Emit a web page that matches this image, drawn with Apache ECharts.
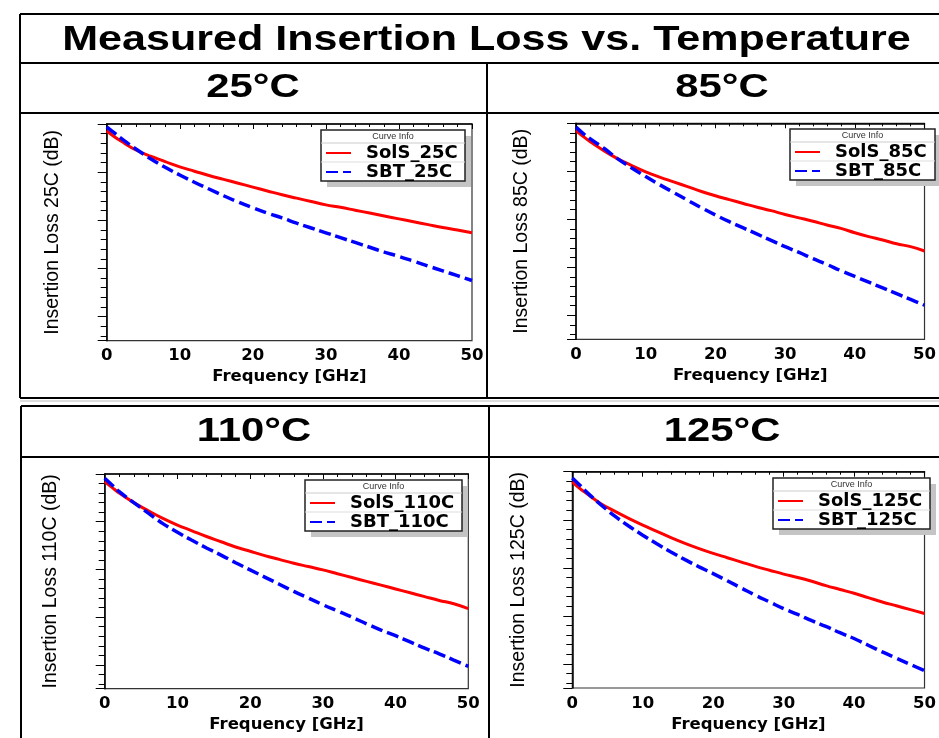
<!DOCTYPE html>
<html>
<head>
<meta charset="utf-8">
<script src="https://cdn.jsdelivr.net/npm/echarts@6/dist/echarts.min.js"></script>
<style>
html, body { margin: 0; padding: 0; background: #fff; }
#main { width: 939px; height: 738px; }
</style>
</head>
<body>
<div id="main"></div>
<script>
// frequency points (GHz) shared by all curves
var freq = [0, 1, 2, 4, 6, 8, 10, 12, 14, 16, 18, 20, 22, 24, 26, 28, 30, 32, 34, 36, 38, 40, 42, 44, 46, 48, 50];

// insertion loss (dB) (y axis has no printed labels)
var sols25 = [0.14, 0.26, 0.36, 0.54, 0.67, 0.78, 0.89, 0.98, 1.07, 1.15, 1.23, 1.31, 1.39, 1.47, 1.54, 1.61, 1.68, 1.73, 1.79, 1.85, 1.91, 1.97, 2.03, 2.09, 2.15, 2.20, 2.26];
var sbt25 = [0.06, 0.18, 0.30, 0.52, 0.72, 0.90, 1.06, 1.21, 1.35, 1.49, 1.62, 1.74, 1.85, 1.95, 2.06, 2.16, 2.26, 2.36, 2.46, 2.56, 2.66, 2.75, 2.85, 2.95, 3.05, 3.15, 3.25];
var sols85 = [0.15, 0.27, 0.38, 0.57, 0.74, 0.88, 1.01, 1.12, 1.22, 1.32, 1.42, 1.51, 1.59, 1.67, 1.75, 1.82, 1.90, 1.97, 2.04, 2.12, 2.19, 2.28, 2.36, 2.43, 2.51, 2.57, 2.66];
var sbt85 = [0.08, 0.21, 0.32, 0.52, 0.74, 0.93, 1.11, 1.28, 1.44, 1.60, 1.76, 1.91, 2.05, 2.18, 2.31, 2.44, 2.57, 2.69, 2.82, 2.94, 3.07, 3.19, 3.31, 3.43, 3.55, 3.67, 3.79];
var sols110 = [0.16, 0.28, 0.40, 0.60, 0.77, 0.93, 1.07, 1.19, 1.31, 1.42, 1.53, 1.62, 1.71, 1.79, 1.87, 1.94, 2.01, 2.09, 2.17, 2.25, 2.33, 2.41, 2.49, 2.57, 2.65, 2.72, 2.82];
var sbt110 = [0.09, 0.23, 0.37, 0.60, 0.82, 1.04, 1.22, 1.39, 1.55, 1.70, 1.86, 2.01, 2.16, 2.31, 2.46, 2.60, 2.74, 2.87, 3.00, 3.14, 3.27, 3.39, 3.52, 3.65, 3.77, 3.90, 4.03];
var sols125 = [0.21, 0.34, 0.45, 0.66, 0.82, 0.97, 1.11, 1.24, 1.37, 1.49, 1.60, 1.70, 1.79, 1.88, 1.97, 2.05, 2.13, 2.20, 2.28, 2.37, 2.45, 2.53, 2.62, 2.71, 2.79, 2.87, 2.95];
var sbt125 = [0.13, 0.27, 0.42, 0.68, 0.92, 1.13, 1.32, 1.50, 1.67, 1.83, 1.98, 2.12, 2.27, 2.42, 2.57, 2.71, 2.85, 2.97, 3.10, 3.22, 3.35, 3.47, 3.61, 3.75, 3.88, 4.01, 4.14];

var temps = ['25C', '85C', '110C', '125C'];
var tempTitles = ['25°C', '85°C', '110°C', '125°C'];
var solsData = [sols25, sols85, sols110, sols125];
var sbtData = [sbt25, sbt85, sbt110, sbt125];

// layout of the four panels
var panels = [
  { grid: { left: 106.7, top: 124, width: 365.3, height: 216.7 }, box: [321, 130, 144], head: [253, 88] },
  { grid: { left: 576, top: 123.3, width: 365, height: 216 }, box: [790, 129, 145], head: [722, 88] },
  { grid: { left: 104.7, top: 474, width: 363.6, height: 214.7 }, box: [305, 480, 157], head: [254, 432] },
  { grid: { left: 572.3, top: 471.7, width: 362.7, height: 216.3 }, box: [773, 478, 157], head: [722, 432] }
];

function pairs(arr) {
  return freq.map(function (f, i) { return [f, arr[i]]; });
}

var grids = [], xAxes = [], yAxes = [], series = [], legends = [], graphics = [];

panels.forEach(function (p, i) {
  var t = temps[i];
  grids.push(Object.assign({ show: true, borderColor: '#333', borderWidth: 1.2, backgroundColor: '#fff' }, p.grid));
  xAxes.push({
    gridIndex: i, type: 'value', min: 0, max: 50, interval: 10,
    name: 'Frequency [GHz]', nameLocation: 'middle', nameGap: 28,
    nameTextStyle: { fontFamily: 'DejaVu Sans', fontWeight: 'bold', fontSize: 16.5, color: '#000' },
    axisLine: { lineStyle: { color: '#000', width: 1.5 } },
    axisTick: { length: 5, lineStyle: { color: '#000' } },
    minorTick: { show: true, splitNumber: 5, length: 3, lineStyle: { color: '#000' } },
    axisLabel: { fontFamily: 'DejaVu Sans', fontWeight: 'bold', fontSize: 16.5, color: '#000', margin: 7 },
    splitLine: { show: false }
  });
  yAxes.push({
    gridIndex: i, type: 'value', inverse: true, min: 0, max: 4.5, interval: 1,
    name: 'Insertion Loss ' + t + ' (dB)', nameLocation: 'middle', nameGap: 44,
    nameTextStyle: { fontFamily: 'Liberation Sans', fontSize: 19.5, color: '#000' },
    axisLine: { lineStyle: { color: '#000', width: 1.5 } },
    axisTick: { length: 9, lineStyle: { color: '#000' } },
    minorTick: { show: true, splitNumber: 5, length: 6, lineStyle: { color: '#000' } },
    axisLabel: { show: false },
    splitLine: { show: false }
  });
  series.push({
    name: 'SolS_' + t, type: 'line', xAxisIndex: i, yAxisIndex: i,
    data: pairs(solsData[i]), symbol: 'none', smooth: 0.4,
    lineStyle: { color: '#ff0000', width: 3 }, itemStyle: { color: '#ff0000' }
  });
  series.push({
    name: 'SBT_' + t, type: 'line', xAxisIndex: i, yAxisIndex: i,
    data: pairs(sbtData[i]), symbol: 'none', smooth: 0.4,
    lineStyle: { color: '#0000ff', width: 3.5, type: [12, 5] }, itemStyle: { color: '#0000ff' }
  });

  var bx = p.box[0], by = p.box[1], bw = p.box[2], bh = 51;
  legends.push({
    data: ['SolS_' + t, 'SBT_' + t],
    orient: 'vertical', left: bx + 4, top: by + 14,
    itemWidth: 25, itemHeight: 10, itemGap: 1, padding: 0,
    selectedMode: false, z: 6,
    lineStyle: { width: 2 },
    itemStyle: { opacity: 0 },
    textStyle: { fontFamily: 'DejaVu Sans', fontWeight: 'bold', fontSize: 18, lineHeight: 18, color: '#000', padding: [0, 0, 0, 10] }
  });
  graphics.push(
    { type: 'rect', z: 3, shape: { x: bx + 6, y: by + 6, width: bw, height: bh }, style: { fill: '#c4c4c4' } },
    { type: 'rect', z: 4, shape: { x: bx, y: by, width: bw, height: bh }, style: { fill: '#fff', stroke: '#222', lineWidth: 1.5 } },
    { type: 'line', z: 4, shape: { x1: bx, y1: by + 13, x2: bx + bw, y2: by + 13 }, style: { stroke: '#ccc', lineWidth: 1 } },
    { type: 'line', z: 4, shape: { x1: bx, y1: by + 32, x2: bx + bw, y2: by + 32 }, style: { stroke: '#ddd', lineWidth: 1 } },
    { type: 'text', z: 5, x: bx + bw / 2, y: by + 6.5,
      style: { text: 'Curve Info', fontFamily: 'Liberation Sans', fontSize: 9, fill: '#333', textAlign: 'center', textVerticalAlign: 'middle' } },
    { type: 'text', z: 5, x: p.head[0], y: p.head[1], scaleX: 1.23,
      style: { text: tempTitles[i], fontFamily: 'Liberation Sans', fontWeight: 'bold', fontSize: 34, fill: '#000', textAlign: 'center', textVerticalAlign: 'middle' } }
  );
});

// frame lines of the composed figure
var frame = [
  [20, 14, 939, 14], [20, 63, 939, 63], [20, 113, 939, 113], [20, 398, 939, 398],
  [20, 14, 20, 398], [487, 63, 487, 398],
  [21, 406, 939, 406], [21, 457, 939, 457],
  [21, 406, 21, 738], [489, 406, 489, 738]
];
frame.forEach(function (l) {
  graphics.push({ type: 'line', z: 5, shape: { x1: l[0], y1: l[1], x2: l[2], y2: l[3] }, style: { stroke: '#000', lineWidth: 2 } });
});
graphics.push({ type: 'line', z: 5, shape: { x1: 20, y1: 401, x2: 939, y2: 401 }, style: { stroke: '#bbb', lineWidth: 1 } });

graphics.push({
  type: 'text', z: 5, x: 486.5, y: 40, scaleX: 1.23,
  style: { text: 'Measured Insertion Loss vs. Temperature', fontFamily: 'Liberation Sans', fontWeight: 'bold', fontSize: 35, fill: '#000', textAlign: 'center', textVerticalAlign: 'middle' }
});

var chart = echarts.init(document.getElementById('main'));
chart.setOption({
  animation: false,
  backgroundColor: '#fff',
  grid: grids,
  xAxis: xAxes,
  yAxis: yAxes,
  legend: legends,
  graphic: { elements: graphics },
  series: series
});
</script>
</body>
</html>
